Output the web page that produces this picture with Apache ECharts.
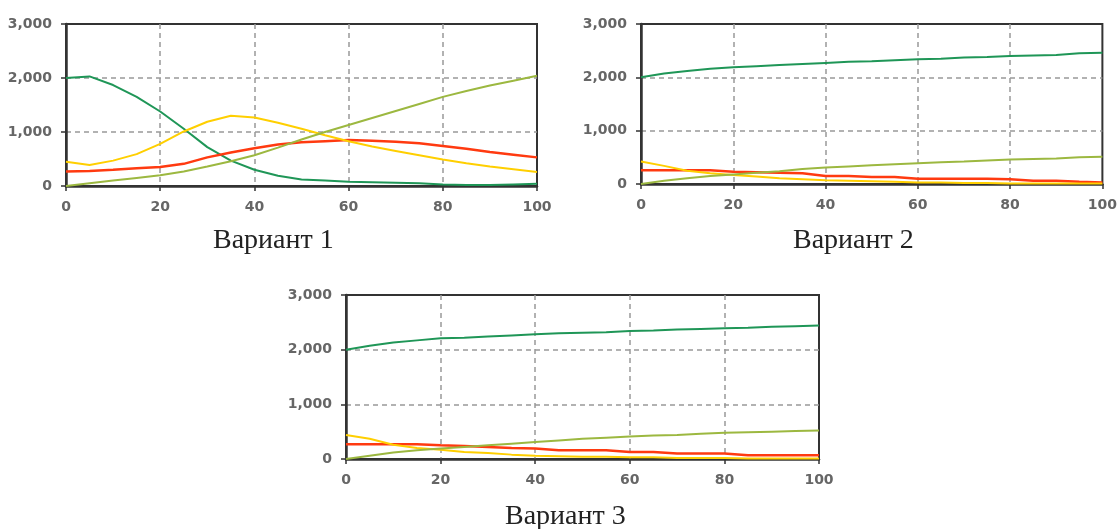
<!DOCTYPE html>
<html>
<head>
<meta charset="utf-8">
<script src="https://cdn.jsdelivr.net/npm/echarts@6/dist/echarts.min.js"></script>
<style>
html,body{margin:0;padding:0;background:#fff;}
#chart{width:1120px;height:529px;}
</style>
</head>
<body>
<div id="chart"></div>
<script>
// x positions (time steps)
const xs = [0,5,10,15,20,25,30,35,40,45,50,55,60,65,70,75,80,85,90,95,100];
const xTicks = [0,20,40,60,80,100];
const yTicks = [0,1000,2000,3000];
const captions = ['Вариант 1','Вариант 2','Вариант 3'];

// Вариант 1
const green1  = [2000,2030,1870,1650,1380,1060,720,470,300,190,120,100,80,70,60,50,30,20,20,30,40];
const yellow1 = [450,390,470,590,780,1010,1190,1300,1270,1170,1060,940,830,730,650,570,490,420,360,310,260];
const red1    = [270,280,300,330,350,410,530,620,700,770,810,830,850,840,820,790,740,690,630,580,530];
const olive1  = [0,50,100,150,200,270,360,460,570,710,860,1000,1130,1260,1390,1520,1650,1760,1860,1950,2040];

// Вариант 2
const green2  = [2000,2070,2120,2160,2190,2210,2230,2250,2270,2290,2300,2320,2340,2350,2370,2380,2400,2410,2420,2450,2460];
const yellow2 = [420,340,250,200,170,140,110,90,70,60,50,40,30,30,20,20,10,10,10,10,10];
const red2    = [260,260,260,260,230,220,210,200,150,150,130,130,100,100,100,100,90,60,60,40,30];
const olive2  = [0,60,110,150,180,210,240,280,310,330,350,370,390,410,420,440,460,470,480,500,510];

// Вариант 3
const green3  = [2000,2070,2130,2170,2210,2220,2240,2260,2280,2300,2310,2320,2340,2350,2370,2380,2390,2400,2420,2430,2440];
const yellow3 = [440,370,260,200,170,130,110,80,60,50,40,40,30,30,20,20,20,10,10,10,10];
const red3    = [270,270,270,270,250,240,220,200,190,160,160,160,130,130,100,100,100,70,70,70,70];
const olive3  = [0,60,120,160,190,220,250,280,310,340,370,390,410,430,440,460,480,490,500,510,520];

const seriesSets = [
  [green1, red1, yellow1, olive1],
  [green2, red2, yellow2, olive2],
  [green3, red3, yellow3, olive3]
];
const colors = ['#1f9657', '#ff3a10', '#ffcf00', '#9cb840'];
const widths = [2, 2.5, 2, 2];

const grids = [
  {left: 66, top: 24, width: 471, height: 162},
  {left: 641, top: 24, width: 462, height: 160},
  {left: 346, top: 295, width: 473, height: 164}
];

const labelStyle = {fontFamily: 'DejaVu Sans', fontSize: 14, fontWeight: 'bold', color: '#666'};
const splitStyle = {show: true, showMinLine: false, showMaxLine: false, lineStyle: {color: '#999', type: [5,4], width: 1.5}};

const option = {
  animation: false,
  backgroundColor: '#fff',
  grid: grids.map(g => Object.assign({show: true, borderColor: '#333', borderWidth: 2, backgroundColor: '#fff'}, g)),
  xAxis: grids.map((g, i) => ({
    type: 'value', gridIndex: i, min: xTicks[0], max: xTicks[xTicks.length-1], interval: xTicks[1]-xTicks[0],
    axisLine: {show: true, lineStyle: {color: '#333', width: 2.5}},
    axisTick: {show: true, length: 5, lineStyle: {color: '#333', width: 1.5}},
    axisLabel: Object.assign({margin: 14, showMinLabel: true, showMaxLabel: true}, labelStyle),
    splitLine: splitStyle
  })),
  yAxis: grids.map((g, i) => ({
    type: 'value', gridIndex: i, min: yTicks[0], max: yTicks[yTicks.length-1], interval: yTicks[1]-yTicks[0],
    axisLine: {show: true, lineStyle: {color: '#333', width: 2.5}},
    axisTick: {show: true, length: 5, lineStyle: {color: '#333', width: 1.5}},
    axisLabel: Object.assign({margin: 14, showMinLabel: true, showMaxLabel: true}, labelStyle),
    splitLine: splitStyle
  })),
  series: [],
  graphic: [
    {type: 'text', left: 213, top: 227, style: {text: captions[0], font: '28px "Liberation Serif"', fill: '#222'}},
    {type: 'text', left: 793, top: 227, style: {text: captions[1], font: '28px "Liberation Serif"', fill: '#222'}},
    {type: 'text', left: 505, top: 503, style: {text: captions[2], font: '28px "Liberation Serif"', fill: '#222'}}
  ]
};

seriesSets.forEach((set, gi) => {
  set.forEach((vals, si) => {
    option.series.push({
      type: 'line', xAxisIndex: gi, yAxisIndex: gi,
      data: xs.map((x, k) => [x, vals[k]]),
      showSymbol: false, smooth: false,
      lineStyle: {color: colors[si], width: widths[si]},
      itemStyle: {color: colors[si]},
      z: 3 + si
    });
  });
});

const chart = echarts.init(document.getElementById('chart'), null, {renderer: 'canvas'});
chart.setOption(option);
</script>
</body>
</html>
